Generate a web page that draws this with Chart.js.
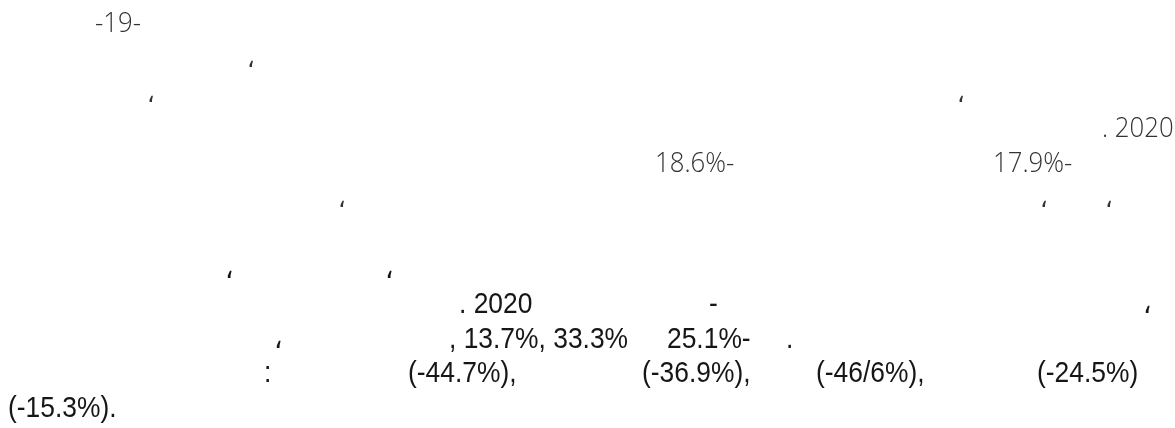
<!DOCTYPE html>
<html>
<head>
<meta charset="utf-8">
<script src="https://cdn.jsdelivr.net/npm/chart.js@4.4.1/dist/chart.umd.min.js"></script>
<style>
html, body { margin: 0; padding: 0; background: #fff; }
#page { position: relative; width: 1175px; height: 428px; overflow: hidden; }
#chartBox { position: absolute; left: 0; top: 0; width: 1175px; height: 428px; }
.frag { position: absolute; white-space: pre; line-height: 1; transform-origin: 0 0; }
.light { font-family: "Open Sans", "Noto Sans", sans-serif; font-weight: 300; font-size: 28px; color: #333; transform: scaleX(0.92); }
.narrow { font-family: "Liberation Sans", Arial, sans-serif; font-size: 30px; color: #161616; transform: scaleX(0.88); }
.mark { font-family: "DejaVu Sans", sans-serif; }
.light.mark { font-size: 26px; }
</style>
</head>
<body>
<div id="page">
  <div id="chartBox"><canvas id="canvas_1" width="1175" height="428"></canvas></div>
  <div id="textLayer"></div>
</div>
<script>
// text fragments that survived in the reference (upper paragraph, light font)
const upperText = ['-19-', '،', '،', '،', '. 2020', '18.6%-', '17.9%-', '،', '،', '،'];
// lower paragraph, condensed font
const lowerText = ['،', '،', '. 2020', '-', '،', '،', ', 13.7%, 33.3%', '25.1%-', '.',
                   ':', '(-44.7%),', '(-36.9%),', '(-46/6%),', '(-24.5%)', '(-15.3%).'];

// layout: [left x, line index] for each fragment above
const upperLines = [32, 67, 102, 137, 172, 207];
const upperPos = [[95, 0], [247, 1], [147, 2], [957, 2], [1102, 3], [655, 4], [993, 4], [338, 5], [1040, 5], [1105, 5]];
const lowerLines = [278, 313, 348, 382, 417];
const lowerPos = [[225, 0], [385, 0], [459, 1], [709, 1], [1143, 1], [274, 2], [449, 2], [667, 2], [786, 2],
                  [264, 3], [408, 3], [642, 3], [816, 3], [1037, 3], [8, 4]];

function baselineOf(cls) {
    const probe = document.createElement('span');
    probe.className = 'frag ' + cls;
    probe.style.visibility = 'hidden';
    probe.textContent = 'X';
    const marker = document.createElement('span');
    marker.style.cssText = 'display:inline-block;width:0;height:0;vertical-align:baseline';
    probe.appendChild(marker);
    document.getElementById('textLayer').appendChild(probe);
    const b = marker.offsetTop;
    probe.remove();
    return b;
}

function placeText(texts, pos, lines, cls) {
    const layer = document.getElementById('textLayer');
    texts.forEach(function(t, i) {
        const c = cls + (t === '،' ? ' mark' : '');
        const span = document.createElement('span');
        span.className = 'frag ' + c;
        span.textContent = t;
        const b = baselineOf(c);
        span.style.left = pos[i][0] + 'px';
        span.style.top = (lines[pos[i][1]] - b) + 'px';
        layer.appendChild(span);
    });
}

placeText(upperText, upperPos, upperLines, 'light');
placeText(lowerText, lowerPos, lowerLines, 'narrow');

// the reference carries no plotted marks, so the chart stays empty
const ctx = document.getElementById('canvas_1').getContext('2d');
window.canvas_1Chart = new Chart(ctx, {
    type: 'bar',
    data: { labels: [], datasets: [{ data: [] }] },
    options: {
        responsive: false,
        animation: false,
        plugins: { legend: { display: false }, tooltip: { enabled: false } },
        scales: { x: { display: false }, y: { display: false } }
    }
});
</script>
</body>
</html>
